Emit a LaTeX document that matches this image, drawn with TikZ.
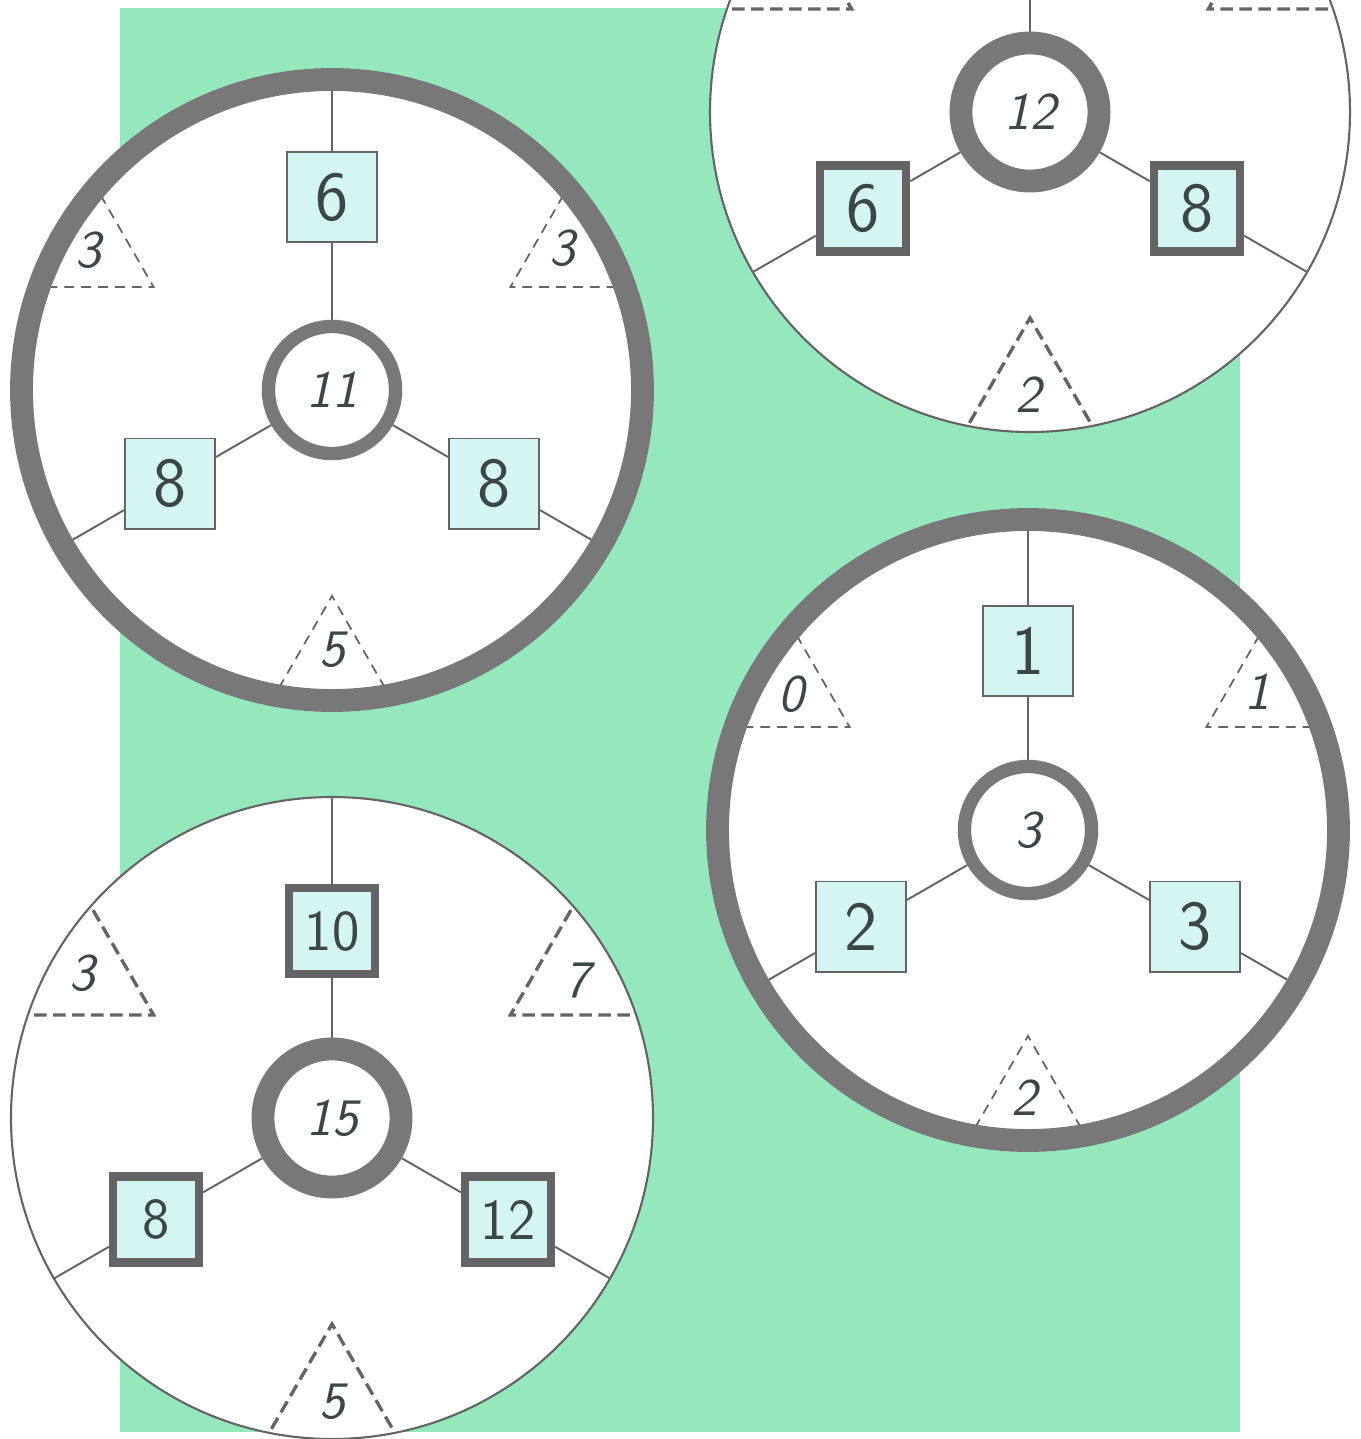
\documentclass[tikz,border=0pt]{standalone}
\definecolor{mesh}{RGB}{148,232,188}
\definecolor{sqfill}{RGB}{212,246,243}
\definecolor{ringgray}{RGB}{120,120,120}
\definecolor{linegray}{RGB}{100,100,100}
\definecolor{ink}{RGB}{60,70,70}
\begin{document}
\begin{tikzpicture}[x=0.01cm,y=0.01cm,
  sqthin/.style={draw=linegray,line width=0.55pt,fill=sqfill,minimum size=0.9cm,inner sep=0pt,text=ink,font=\sffamily\fontsize{20}{20}\selectfont},
  sqthick/.style={sqthin,line width=2.4pt,minimum size=0.86cm},
  hubthin/.style={circle,draw=ringgray,line width=3.8pt,fill=white,minimum size=1.27cm,inner sep=0pt,text=ink,font=\sffamily\itshape\fontsize{15}{15}\selectfont},
  hubthick/.style={hubthin,line width=6.5pt,minimum size=1.38cm},
  spoke/.style={draw=linegray,line width=0.55pt},
  tri/.style={draw=linegray,line width=0.5pt,dash pattern=on 2.8pt off 2pt},
  trithick/.style={tri,line width=0.95pt,dash pattern=on 3.6pt off 1.8pt},
  rimthick/.style={draw=ringgray,line width=6.5pt},
  rimthin/.style={draw=linegray,line width=0.6pt},
  tlabel/.style={inner sep=0pt,text=ink,font=\sffamily\itshape\fontsize{15}{15}\selectfont}]
\useasboundingbox (0,0) rectangle (1361,-1439);
\clip (0,0) rectangle (1361,-1439);
\fill[white] (0,0) rectangle (1361,-1439);
\fill[mesh] (120,-8) rectangle (1240,-1432);

% top left wheel
\coordinate (tlc) at (332,-390);
\fill[white] (tlc) circle (321);
\begin{scope}
\clip (tlc) circle (310);
\draw[tri] (153.6,-287) +(120:140) -- (153.6,-287) -- +(180:140);
\draw[tri] (510.4,-287) +(60:140) -- (510.4,-287) -- +(0:140);
\draw[tri] (332,-596) +(240:140) -- (332,-596) -- +(300:140);
\end{scope}
\node[hubthin] (tlhub) at (tlc) {11};
\node[sqthin] (tltop) at (332,-197) {6};
\node[sqthin] (tlleft) at (170,-483.5) {8};
\node[sqthin] (tlright) at (494,-483.5) {8};
\coordinate (tlrimt) at (332,-79.5);
\coordinate (tlriml) at (63.1,-545.3);
\coordinate (tlrimr) at (600.9,-545.3);
\draw[spoke] (tlhub) -- (tltop);
\draw[spoke] (tltop) -- (tlrimt);
\draw[spoke] (tlhub) -- (tlleft);
\draw[spoke] (tlleft) -- (tlriml);
\draw[spoke] (tlhub) -- (tlright);
\draw[spoke] (tlright) -- (tlrimr);
\draw[rimthick] (tlc) circle (310.5);
\node[tlabel] (tllabl) at (88,-250) {3};
\node[tlabel] (tllabr) at (562,-248) {3};
\node[tlabel] (tllabb) at (332,-650) {5};

% top right wheel
\coordinate (trc) at (1030,-112);
\fill[white] (trc) circle (320);
\begin{scope}
\clip (trc) circle (320);
\draw[trithick] (851.6,-9) +(120:140) -- (851.6,-9) -- +(180:140);
\draw[trithick] (1208.4,-9) +(60:140) -- (1208.4,-9) -- +(0:140);
\draw[trithick] (1030,-318) +(240:140) -- (1030,-318) -- +(300:140);
\end{scope}
\node[hubthick] (trhub) at (trc) {12};
\node[sqthick] (trleft) at (863,-208.5) {6};
\node[sqthick] (trright) at (1197,-208.5) {8};
\coordinate (trrimt) at (1030,208);
\coordinate (trriml) at (752.9,-272);
\coordinate (trrimr) at (1307.1,-272);
\draw[spoke] (trhub) -- (trrimt);
\draw[spoke] (trhub) -- (trleft);
\draw[spoke] (trleft) -- (trriml);
\draw[spoke] (trhub) -- (trright);
\draw[spoke] (trright) -- (trrimr);
\draw[rimthin] (trc) circle (320);
\node[tlabel] (trlabb) at (1028,-395) {2};

% middle right wheel
\coordinate (mrc) at (1028,-830);
\fill[white] (mrc) circle (321);
\begin{scope}
\clip (mrc) circle (310);
\draw[tri] (849.6,-727) +(120:140) -- (849.6,-727) -- +(180:140);
\draw[tri] (1206.4,-727) +(60:140) -- (1206.4,-727) -- +(0:140);
\draw[tri] (1028,-1036) +(240:140) -- (1028,-1036) -- +(300:140);
\end{scope}
\node[hubthin] (mrhub) at (mrc) {3};
\node[sqthin] (mrtop) at (1028,-651) {1};
\node[sqthin] (mrleft) at (861,-926.5) {2};
\node[sqthin] (mrright) at (1195,-926.5) {3};
\coordinate (mrrimt) at (1028,-519.5);
\coordinate (mrriml) at (759.1,-985.3);
\coordinate (mrrimr) at (1296.9,-985.3);
\draw[spoke] (mrhub) -- (mrtop);
\draw[spoke] (mrtop) -- (mrrimt);
\draw[spoke] (mrhub) -- (mrleft);
\draw[spoke] (mrleft) -- (mrriml);
\draw[spoke] (mrhub) -- (mrright);
\draw[spoke] (mrright) -- (mrrimr);
\draw[rimthick] (mrc) circle (310.5);
\node[tlabel] (mrlabl) at (791,-694) {0};
\node[tlabel] (mrlabr) at (1257,-692) {1};
\node[tlabel] (mrlabb) at (1024,-1098) {2};

% bottom left wheel
\coordinate (blc) at (332,-1118);
\fill[white] (blc) circle (321);
\begin{scope}
\clip (blc) circle (321);
\draw[trithick] (153.6,-1015) +(120:140) -- (153.6,-1015) -- +(180:140);
\draw[trithick] (510.4,-1015) +(60:140) -- (510.4,-1015) -- +(0:140);
\draw[trithick] (332,-1324) +(240:140) -- (332,-1324) -- +(300:140);
\end{scope}
\node[hubthick] (blhub) at (blc) {15};
\node[sqthick,font=\sffamily\fontsize{16.5}{16.5}\selectfont] (bltop) at (332,-931) {10};
\node[sqthick,font=\sffamily\fontsize{16.5}{16.5}\selectfont] (blleft) at (156,-1219.5) {8};
\node[sqthick,font=\sffamily\fontsize{16.5}{16.5}\selectfont] (blright) at (508,-1219.5) {12};
\coordinate (blrimt) at (332,-797);
\coordinate (blriml) at (54,-1278.5);
\coordinate (blrimr) at (610,-1278.5);
\draw[spoke] (blhub) -- (bltop);
\draw[spoke] (bltop) -- (blrimt);
\draw[spoke] (blhub) -- (blleft);
\draw[spoke] (blleft) -- (blriml);
\draw[spoke] (blhub) -- (blright);
\draw[spoke] (blright) -- (blrimr);
\draw[rimthin] (blc) circle (321);
\node[tlabel] (bllabl) at (82,-973) {3};
\node[tlabel] (bllabr) at (577,-980) {7};
\node[tlabel] (bllabb) at (332,-1402) {5};
\end{tikzpicture}
\end{document}
